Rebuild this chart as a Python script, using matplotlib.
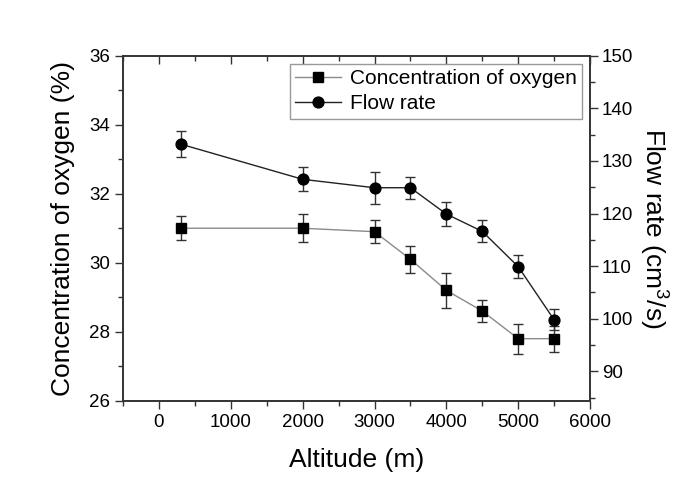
import matplotlib
matplotlib.use('Agg')
import matplotlib.pyplot as plt
from matplotlib.lines import Line2D, TICKDOWN
from matplotlib.ticker import MultipleLocator

plt.rcParams['font.family'] = ['Liberation Sans', 'DejaVu Sans']
plt.rcParams['mathtext.fontset'] = 'custom'
plt.rcParams['mathtext.rm'] = 'Liberation Sans'
plt.rcParams['mathtext.it'] = 'Liberation Sans:italic'

# data
altitude = [300, 2000, 3000, 3500, 4000, 4500, 5000, 5500]
oxygen = [31.0, 31.0, 30.9, 30.1, 29.2, 28.6, 27.8, 27.8]
oxygen_err = [0.35, 0.4, 0.34, 0.39, 0.5, 0.32, 0.43, 0.38]
flow = [133.2, 126.5, 124.9, 124.9, 119.9, 116.6, 109.9, 99.8]
flow_err = [2.45, 2.3, 3.0, 2.1, 2.35, 2.1, 2.2, 2.0]

fig = plt.figure(figsize=(6.85, 4.8), dpi=100)
ax = fig.add_axes([0.1796, 0.165, 0.8614 - 0.1796, 0.884 - 0.165])
ax2 = ax.twinx()

ox_style = dict(color='#8a8a8a', lw=1.0, marker='s', ms=7.5, mfc='black', mec='black')
fl_style = dict(color='#222222', lw=1.0, marker='o', ms=7.8, mfc='black', mec='black')
err_style = dict(ecolor='#333333', elinewidth=1.0, capsize=3.5, capthick=1.0)

ax.errorbar(altitude, oxygen, yerr=oxygen_err, **ox_style, **err_style)
ax2.errorbar(altitude, flow, yerr=flow_err, **fl_style, **err_style)

ax.set_xlim(-500, 6000)
ax.set_ylim(26, 36)
ax2.set_ylim(84.4, 150)

ax.xaxis.set_major_locator(MultipleLocator(1000))
ax.xaxis.set_minor_locator(MultipleLocator(500))
ax.yaxis.set_major_locator(MultipleLocator(2))
ax.yaxis.set_minor_locator(MultipleLocator(1))
ax2.yaxis.set_major_locator(MultipleLocator(10))
ax2.yaxis.set_minor_locator(MultipleLocator(5))

ax.tick_params(axis='both', which='major', labelsize=13.5, length=6, width=1.0,
               direction='out', color='#333333')
ax.tick_params(axis='both', which='minor', length=3.5, width=1.0,
               direction='out', color='#333333')
ax.tick_params(axis='x', which='both', top=True, labeltop=False)
ax2.tick_params(axis='y', which='major', labelsize=13.5, length=6, width=1.0,
                direction='out', color='#333333', pad=2.5)
ax2.tick_params(axis='y', which='minor', length=3.5, width=1.0,
                direction='out', color='#333333')

# top ticks point inward
for t in ax.xaxis.get_major_ticks() + ax.xaxis.get_minor_ticks():
    t.tick2line.set_marker(TICKDOWN)

for a in (ax, ax2):
    for s in a.spines.values():
        s.set_linewidth(1.2)
        s.set_color('#333333')

ax.set_xlabel('Altitude (m)', fontsize=19, labelpad=12)
ax.set_ylabel('Concentration of oxygen (%)', fontsize=19, labelpad=10)
ax2.set_ylabel('Flow rate (cm$^3$/s)', fontsize=19, rotation=270, labelpad=26)

handles = [Line2D([], [], **ox_style), Line2D([], [], **fl_style)]
leg = ax.legend(handles, ['Concentration of oxygen', 'Flow rate'],
                loc='upper right', fontsize=15, fancybox=False, framealpha=1,
                edgecolor='#999999', handlelength=2.2, handletextpad=0.4,
                borderpad=0.25, labelspacing=0.3, borderaxespad=0.4)
leg.get_frame().set_linewidth(1.0)

fig.savefig('out.png', dpi=100)
